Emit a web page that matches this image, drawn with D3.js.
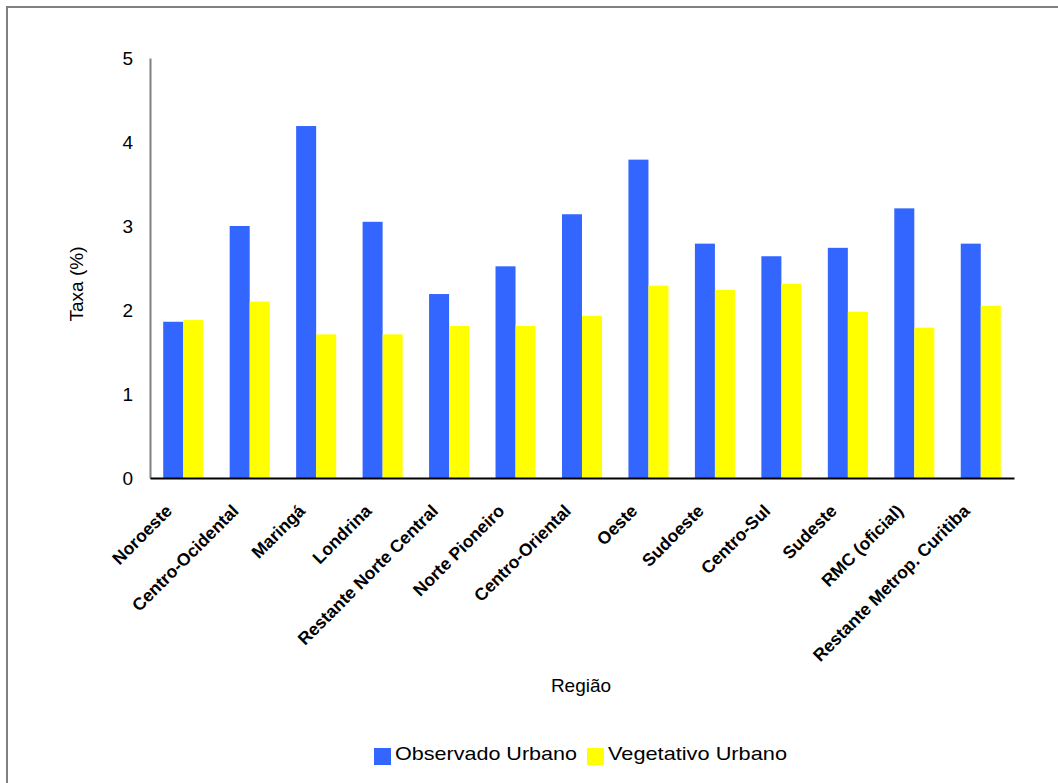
<!DOCTYPE html>
<html>
<head>
<meta charset="utf-8">
<script src="https://cdn.jsdelivr.net/npm/d3@7"></script>
<style>
  body { margin: 0; background: #fff; }
  text { font-family: "Liberation Sans", Arial, sans-serif; fill: #000; }
</style>
</head>
<body>
<script>
// data
var regioes = ["Noroeste", "Centro-Ocidental", "Maringá", "Londrina", "Restante Norte Central",
  "Norte Pioneiro", "Centro-Oriental", "Oeste", "Sudoeste", "Centro-Sul", "Sudeste",
  "RMC (oficial)", "Restante Metrop. Curitiba"];
var observado = [1.86, 3.0, 4.19, 3.05, 2.19, 2.52, 3.14, 3.79, 2.79, 2.64, 2.74, 3.21, 2.79];
var vegetativo = [1.88, 2.1, 1.71, 1.71, 1.81, 1.81, 1.93, 2.29, 2.24, 2.31, 1.98, 1.79, 2.05];
var series = ["Observado Urbano", "Vegetativo Urbano"];
var cores = ["#3366ff", "#ffff00"];
var yTicks = [0, 1, 2, 3, 4, 5];

var chartW = 1058, chartH = 783;
var plotLeft = 150, plotRight = 1014, plotTop = 58, plotBottom = 478;

var svg = d3.select("body").append("svg")
    .attr("width", chartW)
    .attr("height", chartH);

// outer frame (right and bottom edges fall off the picture)
svg.append("rect")
    .attr("x", 7).attr("y", 7)
    .attr("width", 1070).attr("height", 800)
    .attr("fill", "none")
    .attr("stroke", "#808080")
    .attr("stroke-width", 2);

var x = d3.scaleBand()
    .domain(regioes)
    .range([plotLeft, plotRight])
    .paddingInner(0)
    .paddingOuter(0);

var xSub = d3.scaleBand()
    .domain(series)
    .range([0, x.bandwidth()])
    .paddingOuter(0.66)
    .paddingInner(0);

var y = d3.scaleLinear()
    .domain([0, 5])
    .range([plotBottom, plotTop]);

var rows = regioes.map(function(r, i) {
    return { regiao: r, valores: [observado[i], vegetativo[i]] };
});

var grupos = svg.selectAll(".grupo")
    .data(rows)
    .enter().append("g")
    .attr("class", "grupo")
    .attr("transform", function(d) { return "translate(" + x(d.regiao) + ",0)"; });

grupos.selectAll("rect")
    .data(function(d) { return d.valores.map(function(v, j) { return { s: series[j], v: v, c: cores[j] }; }); })
    .enter().append("rect")
    .attr("x", function(d) { return xSub(d.s); })
    .attr("width", xSub.bandwidth())
    .attr("y", function(d) { return y(d.v); })
    .attr("height", function(d) { return plotBottom - y(d.v); })
    .attr("fill", function(d) { return d.c; });

// y axis
var yAxis = svg.append("g")
    .attr("transform", "translate(" + plotLeft + ",0)")
    .call(d3.axisLeft(y).tickValues(yTicks).tickFormat(d3.format("d")).tickSize(0).tickPadding(17));
yAxis.select(".domain").attr("stroke", "#808080").attr("stroke-width", 2);
yAxis.selectAll("text")
    .style("font-size", "19px")
    .style("font-family", "'Liberation Sans', Arial, sans-serif");

// x axis
var xAxis = svg.append("g")
    .attr("transform", "translate(0," + plotBottom + ")")
    .call(d3.axisBottom(x).tickSize(0).tickSizeOuter(0));
xAxis.select(".domain").attr("stroke", "#000").attr("stroke-width", 2);
xAxis.selectAll(".tick text")
    .attr("text-anchor", "end")
    .attr("dy", 0)
    .attr("y", 0)
    .attr("transform", "translate(-10,34) rotate(-45)")
    .style("font-size", "17.5px")
    .style("font-weight", "bold")
    .style("font-family", "'Liberation Sans', Arial, sans-serif");

// axis titles
svg.append("text")
    .attr("transform", "translate(83,284) rotate(-90)")
    .attr("text-anchor", "middle")
    .style("font-size", "19px")
    .text("Taxa (%)");

svg.append("text")
    .attr("x", 581).attr("y", 692)
    .attr("text-anchor", "middle")
    .style("font-size", "19px")
    .text("Região");

// legend
var legenda = svg.append("g");
var legX = [374, 587];
var legW = [182, 179];
series.forEach(function(s, i) {
    legenda.append("rect")
        .attr("x", legX[i]).attr("y", 748)
        .attr("width", 17).attr("height", 17)
        .attr("fill", cores[i]);
    legenda.append("text")
        .attr("x", legX[i] + 21).attr("y", 760)
        .attr("textLength", legW[i])
        .attr("lengthAdjust", "spacingAndGlyphs")
        .style("font-size", "19px")
        .text(s);
});
</script>
</body>
</html>
